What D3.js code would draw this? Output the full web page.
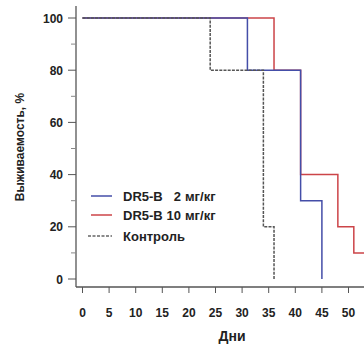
<!DOCTYPE html>
<html>
<head>
<meta charset="utf-8">
<script src="https://cdn.jsdelivr.net/npm/d3@7"></script>
<style>
  html, body { margin: 0; padding: 0; background: #fff; }
  svg { display: block; }
  text { font-family: "Liberation Sans", Arial, sans-serif; font-weight: bold; fill: #222; }
</style>
</head>
<body>
<svg id="chart" width="364" height="351"></svg>
<script>
// Kaplan–Meier survival steps (day, survival %)
const lowDoseDays    = [0, 31, 41, 45];
const lowDoseSurv    = [100, 80, 30, 0];
const highDoseDays   = [0, 36, 41, 48, 51, 56];
const highDoseSurv   = [100, 80, 40, 20, 10, 10];
const controlDays    = [0, 24, 34, 36];
const controlSurv    = [100, 80, 20, 0];

// legend entries: drug name, dose, unit
const legendDrug = ["DR5-B", "DR5-B", "Контроль"];
const legendDose = ["2", "10", ""];
const legendUnit = ["мг/кг", "мг/кг", ""];

const xTicks = [0, 5, 10, 15, 20, 25, 30, 35, 40, 45, 50];
const yTicks = [0, 20, 40, 60, 80, 100];
const yMinorTicks = [10, 30, 50, 70, 90];

const svg = d3.select("#chart");
const x = d3.scaleLinear().domain([0, 50]).range([82.5, 348.5]);
const y = d3.scaleLinear().domain([0, 100]).range([279, 18]);

const axisX = 76, axisY = 287;
const axisColor = "#555";

// axis lines
svg.append("line").attr("x1", axisX).attr("x2", axisX).attr("y1", 6).attr("y2", axisY)
  .attr("stroke", axisColor).attr("stroke-width", 1.3);
svg.append("line").attr("x1", axisX).attr("x2", 364).attr("y1", axisY).attr("y2", axisY)
  .attr("stroke", axisColor).attr("stroke-width", 1.3);

// y ticks
svg.selectAll(".ytick").data(yTicks).join("line")
  .attr("x1", axisX - 8).attr("x2", axisX).attr("y1", d => y(d)).attr("y2", d => y(d))
  .attr("stroke", axisColor).attr("stroke-width", 1);
svg.selectAll(".yminor").data(yMinorTicks).join("line")
  .attr("x1", axisX - 5).attr("x2", axisX).attr("y1", d => y(d)).attr("y2", d => y(d))
  .attr("stroke", "#888").attr("stroke-width", 1);
svg.selectAll(".ylab").data(yTicks).join("text")
  .attr("x", 63).attr("y", d => y(d) + 4.5).attr("text-anchor", "end")
  .attr("font-size", 12).text(d => d);

// x ticks
svg.selectAll(".xtick").data(xTicks).join("line")
  .attr("x1", d => x(d)).attr("x2", d => x(d)).attr("y1", axisY).attr("y2", axisY + 6)
  .attr("stroke", axisColor).attr("stroke-width", 1);
svg.selectAll(".xlab").data(xTicks).join("text")
  .attr("x", d => x(d)).attr("y", 317).attr("text-anchor", "middle")
  .attr("font-size", 12).text(d => d);

// axis titles
svg.append("text").attr("x", 232).attr("y", 341).attr("text-anchor", "middle")
  .attr("font-size", 14).text("Дни");
svg.append("text").attr("transform", "translate(24,147) rotate(-90)")
  .attr("text-anchor", "middle").attr("font-size", 12).text("Выживаемость, %");

// survival curves
const step = d3.line().x(d => x(d[0])).y(d => y(d[1])).curve(d3.curveStepAfter);
const zipSeries = (days, surv) => days.map((d, i) => [d, surv[i]]);

const curves = [
  { pts: zipSeries(highDoseDays, highDoseSurv), color: "#cc4448", dash: null },
  { pts: zipSeries(lowDoseDays, lowDoseSurv), color: "#444ea8", dash: null },
  { pts: zipSeries(controlDays, controlSurv), color: "#555", dash: "3,1.2" }
];
curves.forEach(c => {
  svg.append("path").attr("d", step(c.pts)).attr("fill", "none")
    .attr("stroke", c.color).attr("stroke-width", 1.5)
    .attr("stroke-dasharray", c.dash);
});

// legend
const legendColors = ["#444ea8", "#cc4448", "#666"];
const legendDash = [null, null, "3,1.5"];
const legendY = [196, 215, 236];
const legendFont = 13;
legendDrug.forEach((name, i) => {
  const ly = legendY[i];
  svg.append("line").attr("x1", i === 2 ? 88 : 91).attr("x2", 112)
    .attr("y1", ly).attr("y2", ly)
    .attr("stroke", legendColors[i]).attr("stroke-width", 1.5)
    .attr("stroke-dasharray", legendDash[i]);
  svg.append("text").attr("x", 123).attr("y", ly + 4.5).attr("font-size", legendFont).text(name);
  if (legendDose[i]) {
    svg.append("text").attr("x", 181).attr("y", ly + 4.5).attr("font-size", legendFont)
      .attr("text-anchor", "end").text(legendDose[i]);
    svg.append("text").attr("x", 185).attr("y", ly + 4.5).attr("font-size", legendFont)
      .text(legendUnit[i]);
  }
});
</script>
</body>
</html>
